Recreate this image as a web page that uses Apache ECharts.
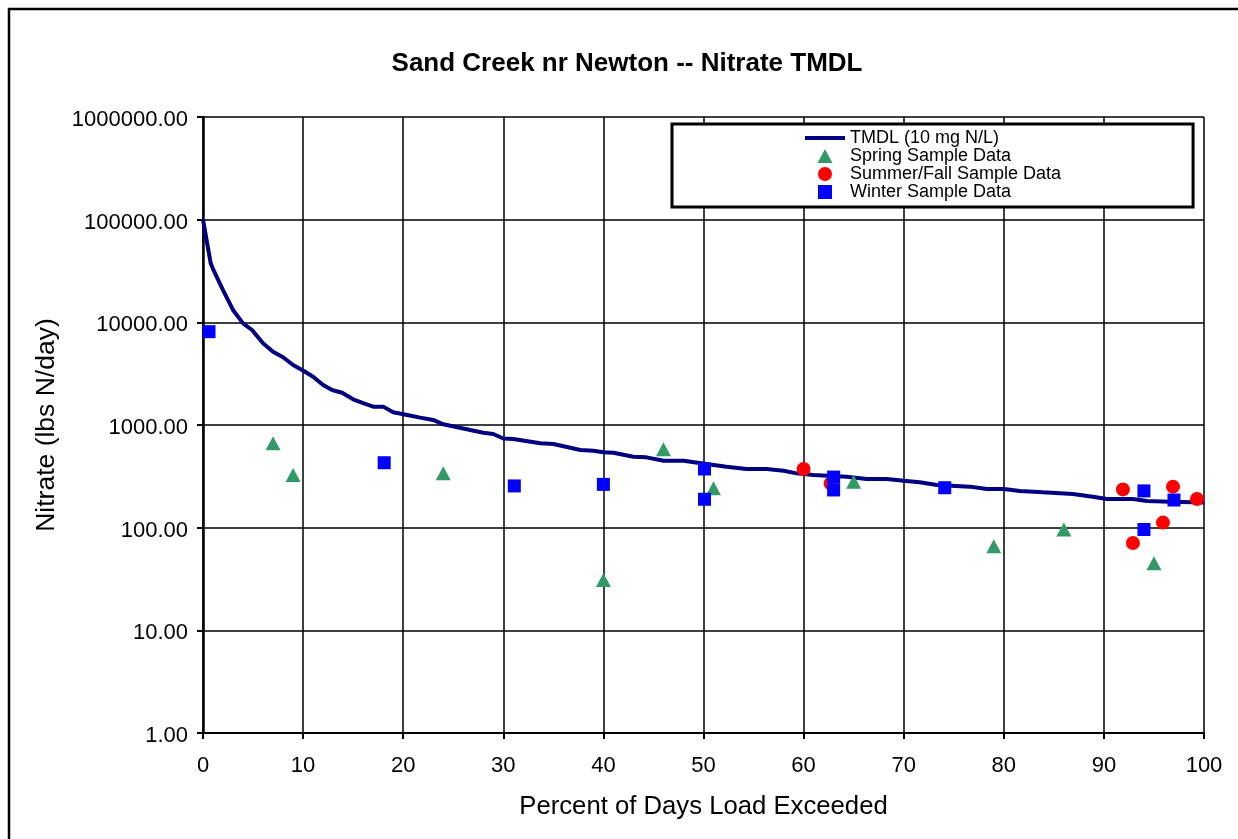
<!DOCTYPE html>
<html>
<head>
<meta charset="utf-8">
<title>Sand Creek nr Newton -- Nitrate TMDL</title>
<script src="https://cdn.jsdelivr.net/npm/echarts@6/dist/echarts.min.js"></script>
<style>
    html, body { margin: 0; padding: 0; background: #fff; }
    #chart { width: 1238px; height: 839px; }
</style>
</head>
<body>
<div id="chart"></div>
<script>
// TMDL curve (percent of days exceeded, lbs N/day)
const tmdlPct = [0, 0.77, 0.97, 2.0, 3.0, 4.0, 4.9, 6.0, 7.0, 8.0, 9.0, 10.2, 11.0, 12.0, 12.9, 13.9, 15.0, 16.0, 17.0, 18.0,
    19.0, 20.4, 21.7, 23.0, 24.0, 25.4, 26.7, 28.0, 29.0, 30.0, 31.0, 33.7, 35.0, 37.7, 39.0, 40.0, 41.0, 43.0, 44.3, 46.0,
    48.0, 50.3, 52.3, 54.3, 56.3, 58.0, 59.3, 61.0, 64.3, 66.3, 68.3, 70.0, 71.6, 73.3, 76.6, 78.3, 80.0, 81.6, 83.9, 86.9,
    88.9, 90.3, 92.9, 94.3, 96.6, 100]
const tmdlLoad = [100000, 37600, 33600, 20600, 13200, 9780, 8420, 6250, 5170, 4570, 3840, 3300, 2950, 2450, 2190, 2060, 1780, 1630, 1510, 1510,
    1330, 1250, 1180, 1120, 1016, 950, 893, 841, 817, 738, 731, 663, 653, 571, 562, 542, 537, 491, 484, 449,
    449, 417, 393, 373, 373, 359, 338, 326, 313, 298, 298, 287, 277, 260, 251, 238, 238, 228, 221, 213,
    200, 190, 190, 182, 179, 176]

// 春季样本
const springPct = [7.0, 9.0, 24.0, 40.0, 46.0, 51.0, 65.0, 79.0, 86.0, 95.0]
const springLoad = [663, 326, 338, 31, 580, 242, 280, 66, 96, 45]

// 夏秋样本
const summerPct = [60.0, 62.7, 91.9, 92.9, 95.9, 96.9, 99.3]
const summerLoad = [373, 270, 236, 71, 112, 251, 190]

// 冬季样本
const winterPct = [0.6, 18.1, 31.1, 40.0, 50.1, 50.1, 63.0, 63.0, 74.1, 94.0, 94.0, 97.0]
const winterLoad = [8110, 429, 255, 264, 373, 189, 311, 233, 245, 228, 96, 186]

const xTicks = [0, 10, 20, 30, 40, 50, 60, 70, 80, 90, 100]

const FONT = 'Arial, "Liberation Sans", sans-serif'

const zip = (xs, ys) => xs.map((x, i) => [x, ys[i]])

const chart = echarts.init(document.getElementById('chart'), null, { renderer: 'canvas' })

const options = {
    backgroundColor: '#fff',
    animation: false,
    title: {
        text: 'Sand Creek nr Newton -- Nitrate TMDL',
        left: 622,
        top: 46,
        textAlign: 'center',
        textStyle: { fontFamily: FONT, fontSize: 26, fontWeight: 'bold', color: '#000' }
    },
    graphic: [{
        type: 'rect',
        z: -10,
        silent: true,
        shape: { x: 9, y: 9, width: 1300, height: 900 },
        style: { fill: null, stroke: '#000', lineWidth: 2.5 }
    }],
    legend: {
        left: 672,
        top: 124,
        orient: 'vertical',
        padding: [5, 132, 6, 133],
        itemGap: 0,
        itemWidth: 40,
        itemHeight: 14,
        symbolKeepAspect: true,
        backgroundColor: '#fff',
        borderColor: '#000',
        borderWidth: 3,
        borderRadius: 0,
        textStyle: { fontFamily: FONT, fontSize: 18, color: '#000', lineHeight: 17 },
        data: [
            { name: 'TMDL (10 mg N/L)', icon: 'path://M0,0 L40,0 L40,4 L0,4 Z' },
            { name: 'Spring Sample Data', icon: 'path://M0,14 L7.5,0 L15,14 Z' },
            { name: 'Summer/Fall Sample Data', icon: 'circle' },
            { name: 'Winter Sample Data', icon: 'path://M0,0 L13,0 L13,13 L0,13 Z' }
        ]
    },
    grid: { left: 203, right: 34, top: 117, bottom: 106 },
    xAxis: {
        type: 'value',
        min: xTicks[0],
        max: xTicks[xTicks.length - 1],
        interval: 10,
        name: 'Percent of Days Load Exceeded',
        nameLocation: 'middle',
        nameGap: 61,
        nameTextStyle: { fontFamily: FONT, fontSize: 25.7, color: '#000' },
        axisLine: { lineStyle: { color: '#000', width: 2 } },
        axisTick: { length: 6, lineStyle: { color: '#000', width: 2 } },
        axisLabel: { fontFamily: FONT, fontSize: 22, color: '#000', margin: 22 },
        splitLine: { show: true, lineStyle: { color: '#000', width: 1.5 } }
    },
    yAxis: {
        type: 'log',
        logBase: 10,
        min: 1,
        max: 1000000,
        name: 'Nitrate (lbs N/day)',
        nameLocation: 'middle',
        nameGap: 143,
        nameTextStyle: { fontFamily: FONT, fontSize: 26.5, color: '#000' },
        axisLine: { lineStyle: { color: '#000', width: 2.5 } },
        axisTick: { length: 6, lineStyle: { color: '#000', width: 2 } },
        axisLabel: {
            fontFamily: FONT, fontSize: 22, color: '#000', margin: 15,
            verticalAlign: 'top',
            lineHeight: 6,
            formatter: v => Number(v).toFixed(2)
        },
        splitLine: { show: true, lineStyle: { color: '#000', width: 1.5 } },
        minorTick: { show: false }
    },
    series: [
        {
            name: 'TMDL (10 mg N/L)',
            type: 'line',
            data: zip(tmdlPct, tmdlLoad),
            symbol: 'none',
            color: '#000080',
            lineStyle: { color: '#000080', width: 4 },
            z: 2
        },
        {
            name: 'Spring Sample Data',
            type: 'scatter',
            data: zip(springPct, springLoad),
            symbol: 'triangle',
            symbolSize: [15, 14],
            itemStyle: { color: '#339966', opacity: 1 },
            z: 3
        },
        {
            name: 'Summer/Fall Sample Data',
            type: 'scatter',
            data: zip(summerPct, summerLoad),
            symbol: 'circle',
            symbolSize: 14,
            itemStyle: { color: '#ff0000', opacity: 1 },
            z: 4
        },
        {
            name: 'Winter Sample Data',
            type: 'scatter',
            data: zip(winterPct, winterLoad),
            symbol: 'rect',
            symbolSize: 13,
            itemStyle: { color: '#0000ff', opacity: 1 },
            z: 5
        }
    ]
}

chart.setOption(options)
window.addEventListener('resize', () => chart.resize())
</script>
</body>
</html>
